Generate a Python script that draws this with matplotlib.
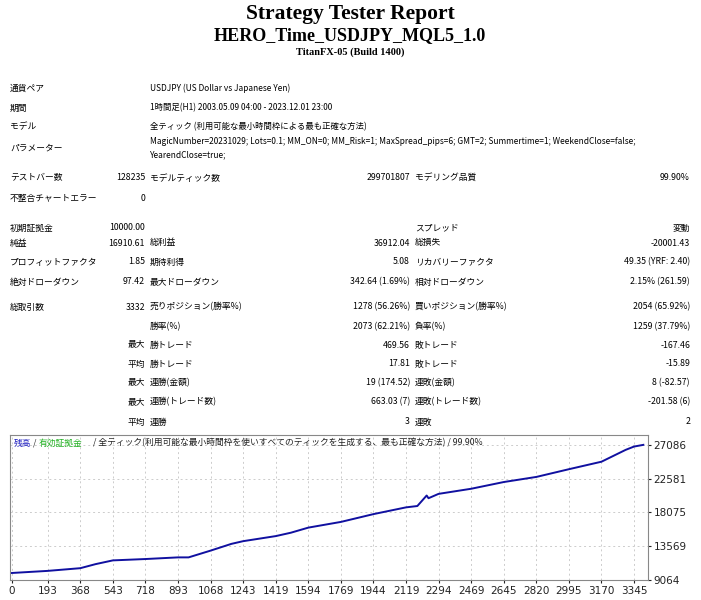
import matplotlib
matplotlib.use("Agg")
import matplotlib.pyplot as plt

W, H = 701, 600
JP = "Noto Sans CJK JP"

title_lines = ["Strategy Tester Report", "HERO_Time_USDJPY_MQL5_1.0", "TitanFX-05 (Build 1400)"]
info_labels = ["通貨ペア", "期間", "モデル", "パラメーター"]
info_values = ["USDJPY (US Dollar vs Japanese Yen)",
               "1時間足(H1) 2003.05.09 04:00 - 2023.12.01 23:00",
               "全ティック (利用可能な最小時間枠による最も正確な方法)",
               "MagicNumber=20231029; Lots=0.1; MM_ON=0; MM_Risk=1; MaxSpread_pips=6; GMT=2; Summertime=1; WeekendClose=false;\nYearendClose=true;"]
# rows: y, label1, value1, label2, value2, label3, value3
stat_rows = [
    (178, "テストバー数", "128235", "モデルティック数", "299701807", "モデリング品質", "99.90%"),
    (198, "不整合チャートエラー", "0", "", "", "", ""),
    (228, "初期証拠金", "10000.00", "", "", "スプレッド", "変動"),
    (243, "純益", "16910.61", "総利益", "36912.04", "総損失", "-20001.43"),
    (262, "プロフィットファクタ", "1.85", "期待利得", "5.08", "リカバリーファクタ", "49.35 (YRF: 2.40)"),
    (282, "絶対ドローダウン", "97.42", "最大ドローダウン", "342.64 (1.69%)", "相対ドローダウン", "2.15% (261.59)"),
    (307, "総取引数", "3332", "売りポジション(勝率%)", "1278 (56.26%)", "買いポジション(勝率%)", "2054 (65.92%)"),
    (327, "", "", "勝率(%)", "2073 (62.21%)", "負率(%)", "1259 (37.79%)"),
    (345, "", "最大", "勝トレード", "469.56", "敗トレード", "-167.46"),
    (364, "", "平均", "勝トレード", "17.81", "敗トレード", "-15.89"),
    (383, "", "最大", "連勝(金額)", "19 (174.52)", "連敗(金額)", "8 (-82.57)"),
    (402, "", "最大", "連勝(トレード数)", "663.03 (7)", "連敗(トレード数)", "-201.58 (6)"),
    (422, "", "平均", "連勝", "3", "連敗", "2"),
]

trades = [0, 193, 368, 450, 543, 718, 893, 950, 1068, 1180, 1243, 1419, 1500, 1594, 1769,
          1944, 2119, 2180, 2230, 2240, 2294, 2469, 2645, 2820, 2995, 3170, 3300, 3345, 3395]
balance = [10000, 10280, 10640, 11180, 11680, 11860, 12080, 12080, 12980, 13880, 14240, 14920,
           15370, 16050, 16810, 17850, 18750, 18930, 20330, 19970, 20550, 21230, 22130, 22810,
           23840, 24840, 26420, 26860, 27086]
xticks = [0, 193, 368, 543, 718, 893, 1068, 1243, 1419, 1594, 1769, 1944, 2119, 2294, 2469,
          2645, 2820, 2995, 3170, 3345]
yticks = [9064, 13569, 18075, 22581, 27086]

fig = plt.figure(figsize=(W/100, H/100), dpi=100)
fig.patch.set_facecolor("white")

def T(x, y, s, **kw):
    kw.setdefault("fontfamily", JP)
    kw.setdefault("fontsize", 6.3)
    kw.setdefault("va", "center")
    fig.text(x / W, 1 - y / H, s, **kw)

T(350, 14, title_lines[0], fontfamily="Liberation Serif", fontsize=15.5, fontweight="bold", ha="center")
T(350, 36, title_lines[1], fontfamily="Liberation Serif", fontsize=13, fontweight="bold", ha="center")
T(350, 52, title_lines[2], fontfamily="Liberation Serif", fontsize=7.5, fontweight="bold", ha="center")

for y, l, v in zip([88, 108, 127, 148], info_labels, info_values):
    T(10, y, l)
    T(150, y, v, linespacing=1.6, fontsize=6)

for y, l1, v1, l2, v2, l3, v3 in stat_rows:
    T(10, y, l1)
    T(145, y, v1, ha="right")
    T(150, y, l2)
    T(410, y, v2, ha="right")
    T(415, y, l3)
    T(690, y, v3, ha="right")

ax = fig.add_axes([10 / W, 1 - 580 / H, (648 - 10) / W, (580 - 435) / H])
ax.plot(trades, balance, color="#1010a0", lw=1.4)
ax.set_xlim(-10, 3420)
ax.set_ylim(9064, 28400)
ax.set_xticks(xticks)
ax.set_xticklabels([str(t) for t in xticks], fontsize=7.5)
ax.set_yticks(yticks)
ax.set_yticklabels([str(t) for t in yticks], fontsize=7.5)
ax.yaxis.tick_right()
ax.tick_params(length=2, pad=2, colors="#222222")
ax.grid(True, color="#cccccc", ls=(0, (2, 3)), lw=0.7)
for s in ax.spines.values():
    s.set_color("#888888")

T(14, 443, "残高", color="#2020c0")
T(33, 443, "/", color="#333333")
T(39, 443, "有効証拠金", color="#20b020")
T(93, 443, "/ 全ティック(利用可能な最小時間枠を使いすべてのティックを生成する、最も正確な方法) / 99.90%", color="#222222")

fig.savefig("out.png", dpi=100)
